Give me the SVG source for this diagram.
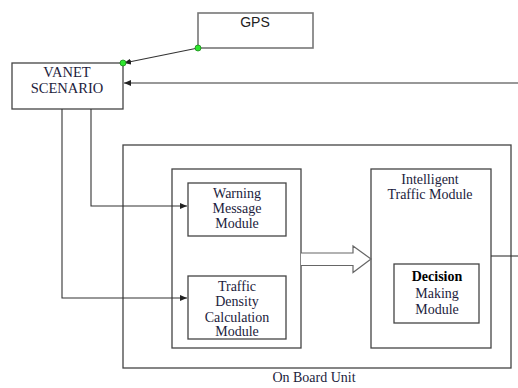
<svg xmlns="http://www.w3.org/2000/svg" width="518" height="388" viewBox="0 0 518 388">
<defs>
<marker id="ah" markerWidth="8" markerHeight="6" refX="7" refY="3" orient="auto" markerUnits="userSpaceOnUse">
<path d="M0,0 L7,3 L0,6 Z" fill="#222"/>
</marker>
</defs>
<style>
.box{fill:#fff;stroke:#444;stroke-width:1.3}
.t{font-family:'Liberation Serif','Times New Roman','DejaVu Serif',serif;font-size:14px;fill:#1c1c3c;text-anchor:middle}
.s{font-family:'Liberation Sans',Arial,sans-serif;font-size:14px;fill:#222;text-anchor:middle}
.big{font-size:14.5px}
.bold{font-weight:bold;fill:#000}
.ln{fill:none;stroke:#333;stroke-width:1.1}
</style>
<rect width="518" height="388" fill="#fff"/>
<g id="obu">
<rect class="box" x="123" y="145" width="388" height="223"/>
<text class="t" x="314" y="382">On Board Unit</text>
</g>
<g id="gps">
<rect x="198" y="13" width="115" height="35" fill="#fff" stroke="#777" stroke-width="1.6"/>
<text class="s" x="255" y="27">GPS</text>
</g>
<g id="vanet">
<rect class="box" x="12" y="63" width="111" height="46"/>
<text class="t big" x="67" y="77">VANET</text>
<text class="t big" x="67" y="93">SCENARIO</text>
</g>
<g id="leftgroup">
<rect class="box" x="172" y="169" width="129" height="179"/>
</g>
<g id="warning">
<rect class="box" x="188" y="183" width="98" height="53"/>
<text class="t" x="237" y="198">Warning</text>
<text class="t" x="237" y="213">Message</text>
<text class="t" x="237" y="228">Module</text>
</g>
<g id="density">
<rect class="box" x="188" y="276" width="98" height="63"/>
<text class="t" x="237" y="291">Traffic</text>
<text class="t" x="237" y="306">Density</text>
<text class="t" x="237" y="321.5">Calculation</text>
<text class="t" x="237" y="336">Module</text>
</g>
<g id="intelligent">
<rect class="box" x="371" y="169" width="120" height="179"/>
<text class="t" x="430" y="184">Intelligent</text>
<text class="t" x="430" y="199">Traffic Module</text>
</g>
<g id="decision">
<rect class="box" x="394" y="264" width="85" height="59"/>
<text class="t bold" x="437" y="281">Decision</text>
<text class="t" x="437" y="298">Making</text>
<text class="t" x="437" y="314">Module</text>
</g>
<g id="connectors">
<line class="ln" x1="198" y1="48" x2="124" y2="63" marker-end="url(#ah)"/>
<line class="ln" x1="518" y1="83" x2="124" y2="83" marker-end="url(#ah)"/>
<polyline class="ln" points="91,109 91,206 187,206" marker-end="url(#ah)"/>
<polyline class="ln" points="62,109 62,298 187,298" marker-end="url(#ah)"/>
<line class="ln" x1="491" y1="256" x2="518" y2="256"/>
<path d="M301,253 L353,253 L353,246 L371,259 L353,272.5 L353,265.5 L301,265.5" fill="#fff" stroke="#666" stroke-width="1.2"/>
<circle cx="198" cy="48" r="3" fill="#2ee62e" stroke="#1a8a1a" stroke-width="0.8"/>
<circle cx="123" cy="63" r="3" fill="#2ee62e" stroke="#1a8a1a" stroke-width="0.8"/>
</g>
</svg>
